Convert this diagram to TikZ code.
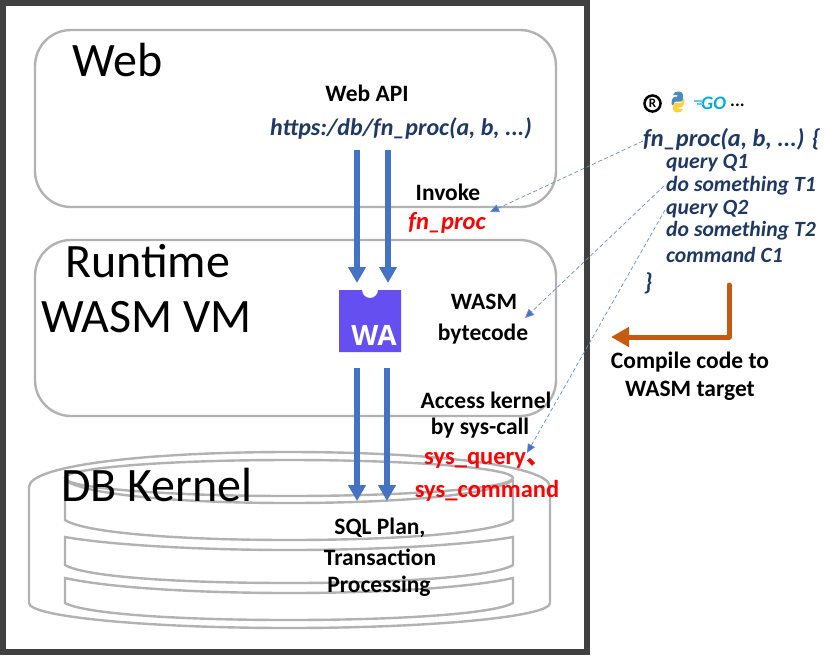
\documentclass[tikz,border=0pt]{standalone}
\usepackage{fontspec}
\setmainfont{Carlito}
\newfontfamily\cjk{Noto Sans CJK SC}
\newfontfamily\wafont{Open Sans}
\usetikzlibrary{arrows.meta}
\definecolor{frameC}{HTML}{404040}
\definecolor{grayC}{HTML}{B2B2B2}
\definecolor{blueC}{HTML}{4472C4}
\definecolor{linkC}{HTML}{6A8CCB}
\definecolor{navyC}{HTML}{1F3864}
\definecolor{orangeC}{HTML}{C55A11}
\definecolor{waC}{HTML}{654FF0}
\definecolor{goC}{HTML}{00ACD7}
\definecolor{pyB}{HTML}{4B8BBE}
\definecolor{pyY}{HTML}{FFD43B}
\tikzset{
  panel/.style={draw=grayC,line width=2.4pt,rounded corners=36pt},
  disc/.style={draw=grayC,line width=2.4pt},
  heavy/.style={draw=blueC,line width=5.5pt,-{Triangle[length=16pt,width=17pt]}},
  link/.style={draw=linkC,line width=0.7pt,dash pattern=on 4pt off 2.5pt,-{Triangle[length=9pt,width=8pt,fill=blueC]}},
  big/.style={font=\fontsize{48}{50}\selectfont,inner sep=0pt,text=black},
  lab/.style={font=\fontsize{23.5}{24}\selectfont\bfseries,inner sep=0pt,text=black},
  redlab/.style={font=\fontsize{24.5}{24}\selectfont\bfseries,inner sep=0pt,text=red},
  code/.style={font=\fontsize{21.7}{24}\selectfont\bfseries\itshape,inner sep=0pt,text=navyC,anchor=west},
  sigcode/.style={code,font=\fontsize{24.4}{24}\selectfont\bfseries\itshape},
}
\begin{document}
\begin{tikzpicture}[x=1pt,y=-1pt]
\useasboundingbox (0,0) rectangle (829,656);
\fill[white] (0,0) rectangle (829,656);
% frame
\draw[frameC,line width=6pt] (3,3) rectangle (587,652);
% panels
\draw[panel] (35,30) rectangle (556,207);
\draw[panel] (35,240) rectangle (556,416);
% cylinder
\draw[disc] (29,487) .. controls (29,465) and (150,452) .. (289,452) .. controls (428,452) and (550,465) .. (550,487)
  -- (550,603) .. controls (550,617) and (428,628) .. (289,628) .. controls (150,628) and (29,617) .. (29,603) -- cycle;
\draw[disc] (289,478) ellipse[x radius=224,y radius=18];
\draw[disc] (65,480) -- (65,520) .. controls (85,533) and (180,540) .. (289,540) .. controls (398,540) and (493,533) .. (513,520) -- (513,480);
\draw[disc] (65,480) .. controls (85,495) and (180,503) .. (289,503) .. controls (398,503) and (493,495) .. (513,480);
\draw[disc] (65,537) .. controls (110,545) and (200,550) .. (289,550) .. controls (378,550) and (468,545) .. (513,537)
  -- (513,565) .. controls (493,577) and (398,583) .. (289,583) .. controls (180,583) and (85,577) .. (65,565) -- cycle;
\draw[disc] (65,578) .. controls (110,588) and (200,593) .. (289,593) .. controls (378,593) and (468,588) .. (513,578)
  -- (513,603) .. controls (493,614) and (398,620) .. (289,620) .. controls (180,620) and (85,614) .. (65,603) -- cycle;
% big labels
\node[big,anchor=west] (web) at (72,60) {Web};
\node[big,anchor=west] (runtime) at (65,261) {Runtime};
\node[big,anchor=west] (wasmvm) at (41,317) {WASM VM};
\node[big,anchor=west] (db) at (61,485) {DB Kernel};
% WA logo
\fill[waC] (339,290) -- (362,290) arc[start angle=180,end angle=0,radius=8] -- (401,290) -- (401,352) -- (339,352) -- cycle;
\node[font=\fontsize{28}{30}\selectfont\wafont\bfseries,text=white,inner sep=0pt] (wa) at (374,335) {WA};
\coordinate (wb1) at (357,368);
\coordinate (wb2) at (387,368);
% heavy arrows
\coordinate (api1) at (357,150);
\coordinate (api2) at (388,150);
\coordinate (wi1) at (357,283);
\coordinate (wi2) at (388,283);
\coordinate (k1) at (357,501);
\coordinate (k2) at (387,501);
\draw[heavy] (api1) -- (wi1);
\draw[heavy] (api2) -- (wi2);
\draw[heavy] (wb1) -- (k1);
\draw[heavy] (wb2) -- (k2);
% labels
\node[lab] (webapi) at (367,93) {Web API};
\node[code,anchor=center,font=\fontsize{24}{24}\selectfont\bfseries\itshape] (url) at (401,128) {https:/db/fn\_proc(a, b, ...)};
\node[lab] (invoke) at (448,192) {Invoke};
\node[redlab,font=\fontsize{24.5}{24}\selectfont\bfseries\itshape] (fnp) at (447,223) {fn\_proc};
\node[lab] (wasm) at (484,302) {WASM};
\node[lab] (bytecode) at (483,334) {bytecode};
\node[lab] (access) at (486,400) {Access kernel};
\node[lab] (bysys) at (480,428) {by sys-call};
\node[redlab,anchor=west] (sq) at (424,460) {sys\_query{\cjk 、}};
\node[redlab] (sc) at (487,491) {sys\_command};
\node[lab] (sql) at (380,528) {SQL Plan,};
\node[lab] (tr) at (380,557) {Transaction};
\node[lab] (pr) at (379,586) {Processing};
% code
\node[sigcode] (sig) at (643,139) {fn\_proc(a, b, ...) \{};
\node[code] (q1) at (666,163) {query Q1};
\node[code] (t1) at (666,186) {do something T1};
\node[code] (q2) at (666,209) {query Q2};
\node[code] (t2) at (666,231) {do something T2};
\node[code] (c1) at (666,255) {command C1};
\node[sigcode] (cl) at (644,283) {\}};
% compile
\node[lab] (cc) at (690,362) {Compile code to};
\node[lab] (wt2) at (690,391) {WASM target};
\coordinate (o1) at (729,285);
\coordinate (o2) at (729,337);
\coordinate (o3) at (611,337);
\draw[orangeC,line width=5pt,line cap=round,line join=round,-{Triangle[length=18pt,width=19pt]}] (o1) -- (o2) -- (o3);
% dashed links
\coordinate (l1s) at (643,141);
\coordinate (l1e) at (490,212);
\coordinate (l2s) at (664,186);
\coordinate (l2e) at (525,318);
\coordinate (l3s) at (665,210);
\coordinate (l3e) at (527,453);
\draw[link] (l1s) -- (l1e);
\draw[link] (l2s) -- (l2e);
\draw[link] (l3s) -- (l3e);
% language logos
\fill[black] (652.5,103.5) circle[radius=9.3];
\fill[white] (652.5,103.5) circle[radius=6.6];
\node[font=\fontsize{13}{14}\selectfont\bfseries,inner sep=0pt] (rust) at (652.5,103.5) {R};
\begin{scope}[shift={(678,102)},scale=0.72,shift={(-678,-102.5)}]
\fill[pyB] (669,105) .. controls (669,96) and (672,95) .. (677,95) -- (677,93) -- (671,93) .. controls (672,89) and (675,88) .. (678,88) .. controls (683,88) and (685,90) .. (685,93) -- (685,99) .. controls (685,101) and (683,102) .. (681,102) -- (675,102) .. controls (673,102) and (672,104) .. (672,107) .. controls (670,107) and (669,106) .. (669,105) -- cycle;
\fill[pyY] (687,100) .. controls (687,108) and (684,110) .. (679,110) -- (679,112) -- (685,112) .. controls (684,116) and (681,117) .. (678,117) .. controls (673,117) and (671,115) .. (671,112) -- (671,107) .. controls (671,105) and (673,104) .. (675,104) -- (681,104) .. controls (684,104) and (685,101) .. (685,98) .. controls (686,98) and (687,99) .. (687,100) -- cycle;
\end{scope}
\node[font=\fontsize{19}{20}\selectfont\bfseries\itshape,text=goC,inner sep=0pt,anchor=west] (go) at (701,103) {GO};
\draw[goC!60,line width=1.2pt] (694,101) -- (703,101) (697,104) -- (703,104);
\node[font=\fontsize{18}{20}\selectfont\bfseries,inner sep=0pt,anchor=west] (dots) at (730,105) {...};
\end{tikzpicture}
\end{document}
